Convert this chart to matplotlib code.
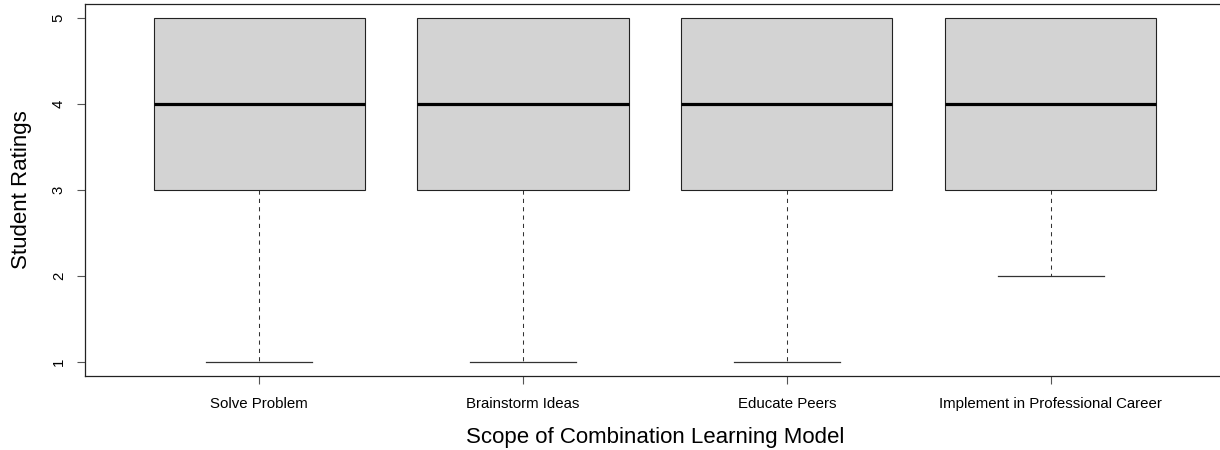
import matplotlib

matplotlib.use("Agg")
import matplotlib.pyplot as plt

plt.rcParams.update({
    "font.family": ["Liberation Sans", "DejaVu Sans"],
})

categories = ["Solve Problem", "Brainstorm Ideas", "Educate Peers",
              "Implement in Professional Career"]
whislo = [1, 1, 1, 2]
q1 = [3, 3, 3, 3]
med = [4, 4, 4, 4]
q3 = [5, 5, 5, 5]
whishi = [5, 5, 5, 5]
yticks = [1, 2, 3, 4, 5]

stats = [
    {"whislo": lo, "q1": a, "med": m, "q3": b, "whishi": hi, "fliers": []}
    for lo, a, m, b, hi in zip(whislo, q1, med, q3, whishi)
]

fig = plt.figure(figsize=(12.2, 4.5), dpi=100)
# R-style plot region; the right edge runs just past the saved image
ax = fig.add_axes([85 / 1220, 74 / 450, 1140 / 1220, 372 / 450])

parts = ax.bxp(stats, positions=range(1, len(stats) + 1), widths=0.8, patch_artist=True,
               boxprops=dict(facecolor="#D3D3D3", edgecolor="#222222", linewidth=0.8, zorder=3),
               medianprops=dict(color="black", linewidth=2.3, solid_capstyle="butt", zorder=4),
               whiskerprops=dict(color="#333333", linewidth=0.75, linestyle=(0, (4, 4)), zorder=1),
               capprops=dict(color="#333333", linewidth=0.9, zorder=1),
               capwidths=0.4)
# upper whisker coincides with the box top: its staple just hides under the edge
for cap, hi, top in zip(parts["caps"][1::2], whishi, q3):
    cap.set_visible(hi > top)

ax.set_xlim(0.34, 4.66)
ax.set_ylim(0.84, 5.16)
ax.set_xticks(range(1, len(categories) + 1))
ax.set_xticklabels(categories, fontsize=10.8)
ax.set_yticks(yticks)
ax.set_yticklabels([str(v) for v in yticks], fontsize=10.8, rotation=90, va="center")
ax.tick_params(axis="both", length=5.8, width=0.8, color="#555555")
ax.tick_params(axis="x", pad=9)
ax.tick_params(axis="y", pad=8)
for s in ax.spines.values():
    s.set_linewidth(0.9)
    s.set_color("#222222")
ax.spines["right"].set_visible(False)

ax.set_xlabel("Scope of Combination Learning Model", fontsize=16)
ax.set_ylabel("Student Ratings", fontsize=16)
ax.xaxis.set_label_coords(0.5, (376 - 437) / 372)
ax.xaxis.label.set_va("center")
ax.yaxis.set_label_coords((22 - 85) / 1140, 0.5)
ax.yaxis.label.set_va("center")

fig.savefig("out.png", dpi=100)
